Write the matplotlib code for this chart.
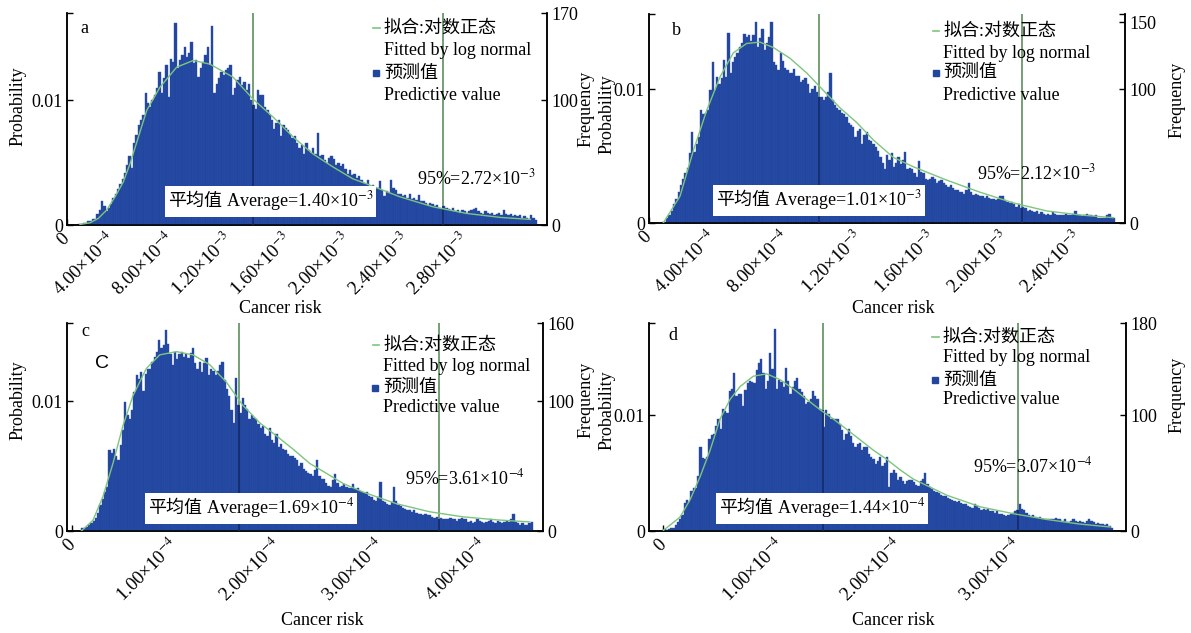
import matplotlib
matplotlib.use("Agg")
import matplotlib.pyplot as plt
from matplotlib.patches import Rectangle
from matplotlib.transforms import Bbox
import numpy as np

plt.rcParams['font.family'] = ['Liberation Serif', 'Noto Sans CJK SC']
plt.rcParams['mathtext.fontset'] = 'stix'

N_TRIALS = 10000

# ---- panel a ----
a_start = 1.646e-4
a_width = 0.1557e-4
a_counts = [
    1, 1, 2, 2, 3, 3, 5, 5, 9, 12,
    19, 15, 11, 14, 17, 22, 25, 29, 33, 37,
    42, 48, 55, 46, 66, 72, 80, 84, 88, 106,
    98, 95, 100, 104, 110, 123, 106, 118, 128, 103,
    133, 131, 162, 126, 132, 136, 143, 135, 138, 147,
    130, 132, 119, 126, 131, 136, 143, 128, 160, 106,
    113, 118, 123, 120, 124, 126, 128, 104, 110, 116,
    119, 112, 115, 108, 113, 100, 96, 93, 108, 104,
    104, 95, 92, 88, 84, 77, 82, 84, 71, 80,
    78, 76, 73, 70, 71, 66, 62, 64, 57, 66,
    60, 58, 62, 57, 74, 55, 56, 52, 50, 54,
    55, 53, 48, 50, 47, 49, 45, 41, 44, 40,
    41, 38, 39, 36, 34, 33, 36, 30, 32, 28,
    30, 35, 28, 23, 27, 26, 36, 30, 28, 25,
    25, 23, 24, 22, 25, 21, 22, 20, 24, 19,
    19, 18, 16, 18, 17, 15, 16, 14, 13, 15,
    14, 13, 12, 14, 11, 12, 10, 12, 11, 10,
    11, 12, 13, 14, 11, 10, 9, 11, 10, 9,
    10, 8, 9, 10, 8, 12, 9, 8, 9, 7,
    8, 7, 8, 6, 7, 6, 5, 8, 6, 4,
]
a_fit_x = [1.78, 2.46, 3.02, 3.59, 4.16, 4.72, 5.17, 6.31, 7.21, 8.34, 9.47, 10.60,
           12.16, 13.52, 14.88, 16.24, 17.59, 18.94, 20.30, 21.23, 23.49, 25.73,
           28.01, 30.30, 32.33]
a_fit_y = [0.5, 1.8, 5.3, 12, 22.6, 34.6, 49, 92, 110.6, 126.6, 132, 129,
           118.6, 101, 86.6, 70.6, 57, 46.6, 37, 33, 22.6, 14.6, 9.3, 6.1, 4.5]
a_mean, a_p95 = 13.50e-4, 26.42e-4
a_xlim = (0.90e-4, 33.46e-4)
a_ytop, a_ylab = 170, 170
a_xticks = [4e-4, 8e-4, 12e-4, 16e-4, 20e-4, 24e-4, 28e-4]
a_xticklabels = ['4.00×10$^{-4}$', '8.00×10$^{-4}$', '1.20×10$^{-3}$', '1.60×10$^{-3}$',
                 '2.00×10$^{-3}$', '2.40×10$^{-3}$', '2.80×10$^{-3}$']
a_mean_text = ' Average=1.40×10$^{-3}$'
a_p95_text = '95%=2.72×10$^{-3}$'

# ---- panel b ----
b_start = 1.134e-4
b_width = 0.1242e-4
b_counts = [
    1, 1, 4, 6, 9, 14, 18, 23, 28, 33,
    37, 41, 52, 68, 53, 59, 64, 84, 81, 82,
    84, 99, 120, 99, 109, 104, 108, 122, 109, 142,
    112, 120, 124, 127, 131, 134, 141, 139, 140, 136,
    140, 150, 131, 138, 145, 129, 134, 139, 150, 120,
    118, 114, 127, 121, 116, 114, 112, 112, 115, 110,
    110, 105, 107, 108, 104, 97, 100, 102, 98, 94,
    94, 92, 94, 98, 112, 92, 88, 86, 84, 82,
    81, 79, 75, 73, 72, 64, 69, 70, 59, 66,
    68, 62, 61, 59, 57, 54, 49, 45, 40, 51,
    47, 52, 42, 45, 49, 44, 47, 53, 40, 41,
    40, 37, 34, 46, 38, 37, 33, 32, 33, 34,
    33, 30, 31, 32, 30, 28, 27, 28, 26, 25,
    25, 23, 23, 22, 25, 30, 23, 21, 22, 21,
    20, 20, 19, 20, 19, 18, 18, 17, 18, 20,
    20, 17, 16, 15, 16, 14, 12, 14, 11, 12,
    11, 9, 10, 9, 8, 9, 7, 8, 7, 6,
    7, 6, 8, 7, 6, 6, 6, 6, 7, 6,
    6, 7, 9, 6, 6, 5, 6, 7, 6, 6,
    5, 6, 4, 4, 4, 4, 6, 7, 4, 4,
]
b_fit_x = [1.22, 2.14, 2.87, 3.60, 4.33, 5.06, 5.79, 6.52, 7.25, 8.16, 9.08, 9.99,
           10.90, 11.82, 12.73, 13.82, 14.92, 16.75, 18.57, 20.40, 22.23, 24.05, 25.88]
b_fit_y = [0, 20, 54, 84, 109, 127, 134, 135, 131, 123, 112, 99,
           86, 75, 62, 49, 42, 32, 23, 15, 9, 6, 4]
b_mean, b_p95 = 9.77e-4, 20.86e-4
b_xlim = (0.439e-4, 26.52e-4)
b_ytop, b_ylab = 156, 150
b_xticks = [4e-4, 8e-4, 12e-4, 16e-4, 20e-4, 24e-4]
b_xticklabels = ['4.00×10$^{-4}$', '8.00×10$^{-4}$', '1.20×10$^{-3}$', '1.60×10$^{-3}$',
                 '2.00×10$^{-3}$', '2.40×10$^{-3}$']
b_mean_text = ' Average=1.01×10$^{-3}$'
b_p95_text = '95%=2.12×10$^{-3}$'

# ---- panel c ----
c_start = 0.0883e-4
c_width = 0.02191e-4
c_counts = [
    2, 2, 3, 5, 6, 8, 10, 14, 20, 25,
    30, 34, 62, 60, 63, 58, 55, 66, 78, 99,
    89, 86, 93, 107, 120, 117, 122, 108, 121, 125,
    125, 130, 134, 138, 147, 141, 143, 155, 144, 136,
    128, 138, 132, 136, 138, 134, 136, 133, 137, 141,
    129, 125, 130, 122, 129, 133, 120, 125, 123, 120,
    123, 128, 130, 116, 109, 104, 93, 83, 118, 97,
    91, 102, 97, 94, 86, 89, 87, 86, 82, 79,
    81, 75, 73, 79, 70, 68, 75, 65, 67, 63,
    62, 59, 58, 58, 56, 55, 50, 52, 48, 46,
    45, 44, 42, 47, 55, 42, 40, 40, 37, 35,
    34, 39, 44, 37, 34, 35, 36, 34, 33, 33,
    36, 32, 33, 31, 30, 29, 30, 27, 26, 24,
    23, 26, 38, 23, 22, 21, 20, 22, 34, 23,
    20, 19, 18, 17, 16, 16, 15, 16, 14, 13,
    13, 12, 13, 12, 12, 11, 10, 11, 9, 10,
    9, 9, 9, 10, 9, 9, 8, 9, 10, 9,
    9, 7, 8, 6, 7, 9, 8, 7, 6, 7,
    8, 9, 7, 6, 8, 7, 6, 7, 8, 7,
    9, 13, 7, 6, 5, 6, 5, 5, 6, 7,
]
c_fit_x = [0.088, 0.201, 0.298, 0.395, 0.492, 0.589, 0.719, 0.849, 1.011, 1.172, 1.334,
           1.496, 1.657, 1.819, 1.982, 2.143, 2.305, 2.467, 2.628, 2.822, 3.147,
           3.470, 3.793, 4.117, 4.441]
c_fit_y = [0, 8.3, 26.5, 52, 81, 104, 125, 135.5, 138, 135.5, 128,
           114.5, 96.6, 83.3, 73.2, 63, 52, 44.4, 36.6, 30, 21,
           14.8, 10.9, 8.6, 7]
c_mean, c_p95 = 1.616e-4, 3.557e-4
c_xlim = (-0.051e-4, 4.570e-4)
c_ytop, c_ylab = 160, 160
c_xticks = [1e-4, 2e-4, 3e-4, 4e-4]
c_xticklabels = ['1.00×10$^{-4}$', '2.00×10$^{-4}$', '3.00×10$^{-4}$', '4.00×10$^{-4}$']
c_mean_text = ' Average=1.69×10$^{-4}$'
c_p95_text = '95%=3.61×10$^{-4}$'

# ---- panel d ----
d_start = 0.0
d_width = 0.019e-4
d_counts = [
    2, 1, 2, 3, 3, 5, 8, 10, 14, 24,
    27, 25, 35, 37, 37, 48, 73, 63, 62, 64,
    80, 83, 84, 91, 97, 88, 106, 104, 102, 121,
    123, 137, 117, 119, 119, 108, 122, 128, 130, 129,
    128, 139, 145, 149, 137, 123, 130, 154, 140, 175,
    123, 131, 129, 125, 141, 130, 119, 125, 130, 132,
    123, 120, 117, 110, 112, 114, 121, 117, 114, 106,
    105, 90, 105, 101, 97, 97, 97, 97, 93, 87,
    79, 84, 88, 82, 76, 73, 75, 76, 70, 73,
    73, 67, 64, 62, 58, 61, 64, 56, 59, 64,
    38, 50, 53, 50, 44, 47, 43, 41, 43, 44,
    44, 42, 40, 39, 43, 45, 50, 41, 38, 36,
    35, 34, 33, 31, 30, 30, 29, 28, 27, 26,
    25, 26, 24, 23, 23, 22, 21, 20, 23, 22,
    20, 18, 19, 18, 19, 17, 17, 16, 17, 15,
    15, 14, 13, 14, 15, 16, 17, 18, 23, 19,
    18, 16, 14, 13, 14, 12, 11, 12, 10, 10,
    10, 10, 10, 10, 11, 10, 10, 9, 10, 8,
    8, 9, 10, 9, 8, 9, 8, 7, 9, 10,
    9, 8, 6, 7, 6, 6, 5, 6, 4, 3,
]
d_fit_x = [0.0, 0.140, 0.225, 0.310, 0.395, 0.479, 0.564, 0.648, 0.760, 0.873, 0.986,
           1.098, 1.211, 1.324, 1.436, 1.549, 1.662, 1.774, 1.888, 2.000, 2.112,
           2.254, 2.395, 2.676, 2.958, 3.240, 3.522, 3.775]
d_fit_y = [0.6, 12, 27, 47, 70, 97, 114, 125, 134, 136, 131,
           123, 114, 105, 97, 88, 79, 70, 62, 53, 45,
           38, 31, 21, 15, 10, 6, 3.5]
d_mean, d_p95 = 1.347e-4, 3.0e-4
d_xlim = (-0.122e-4, 3.910e-4)
d_ytop, d_ylab = 180, 180
d_xticks = [1e-4, 2e-4, 3e-4]
d_xticklabels = ['1.00×10$^{-4}$', '2.00×10$^{-4}$', '3.00×10$^{-4}$']
d_mean_text = ' Average=1.44×10$^{-4}$'
d_p95_text = '95%=3.07×10$^{-4}$'

BAR = '#22469f'
FIT = '#7dc57d'
VLINE = '#5f8f5f'
DARK = '#16296a'
FS = 13

fig = plt.figure(figsize=(11.91, 6.33), dpi=100)
boxes = []


def panel(rect, letter, start, width, counts, fit_x, fit_y, xscale, mean, p95,
          xlim, ytop, ylab_top, xticks, xticklabels, zero_at, mean_text, p95_text, lay):
    ax = fig.add_axes(rect)
    ax2 = ax.twinx()
    counts = np.array(counts, dtype=float)
    edges = start + width * np.arange(len(counts))
    # lines behind bars
    for xv in (mean, p95):
        ax2.axvline(xv, color=VLINE, lw=1.2, zorder=1)
    ax2.bar(edges, counts, width=width, align='edge', color=BAR,
            edgecolor='#2c52aa', linewidth=0.3, zorder=2)
    for xv in (mean, p95):
        k = int((xv - start) / width)
        h = counts[k] if 0 <= k < len(counts) else 0
        ax2.vlines(xv, 0, h, color=DARK, lw=1.2, zorder=3)
    ax2.plot(np.array(fit_x) * xscale, fit_y, color=FIT, lw=1.0, zorder=4)

    ax.set_xlim(*xlim)
    ax2.set_xlim(*xlim)
    ax.set_ylim(0, ytop / N_TRIALS)
    ax2.set_ylim(0, ytop)

    ax.set_yticks([0, 0.01, ytop / N_TRIALS])
    ax.set_yticklabels(['0', '0.01', ''], fontsize=FS)
    rt = [0, 100, ylab_top]
    rl = ['0', '100', str(ylab_top)]
    if ylab_top != ytop:
        rt.append(ytop)
        rl.append('')
    ax2.set_yticks(rt)
    ax2.set_yticklabels(rl, fontsize=FS)
    ax.set_xticks([zero_at] + xticks)
    ax.set_xticklabels(['0'] + xticklabels, fontsize=13.5, rotation=45,
                       ha='right', va='center', rotation_mode='anchor')
    for a in (ax, ax2):
        a.tick_params(direction='in', length=4, width=1, pad=3)
        a.spines['top'].set_visible(False)
        for s in ('left', 'right', 'bottom'):
            a.spines[s].set_linewidth(1.1)
    ax.tick_params(axis='x', pad=8)

    ax.set_ylabel('Probability', fontsize=FS)
    ax.yaxis.set_label_coords(*lay['ylab'])
    ax2.set_ylabel('Frequency', fontsize=FS)
    ax2.yaxis.set_label_coords(*lay['flab'])
    ax.set_xlabel('Cancer risk', fontsize=FS)
    ax.xaxis.set_label_coords(*lay['xlab'])

    t = ax2.transAxes
    ax2.text(lay['letter'][0], lay['letter'][1], letter, transform=t,
             fontsize=FS, va='center', zorder=6)
    lx, ly = lay['leg']
    ax2.plot([lx - 0.022, lx - 0.008], [ly[0], ly[0]], transform=t,
             color=FIT, lw=1.2, zorder=6, clip_on=False)
    ax2.plot([lx - 0.016], [ly[2]], transform=t, marker='s', ms=5,
             color=BAR, zorder=6, clip_on=False)
    for yy, s in zip(ly, ['拟合:对数正态', 'Fitted by log normal', '预测值', 'Predictive value']):
        ax2.text(lx, yy, s, transform=t, fontsize=FS, va='center', zorder=6)
    t1 = ax2.text(lay['mean'][0], lay['mean'][1], '平均值', transform=t,
                  fontsize=FS, va='center', zorder=7)
    t2 = ax2.annotate(mean_text, xy=(1, 0.5), xycoords=t1, fontsize=FS,
                      va='center', ha='left', zorder=7)
    boxes.append((ax2, t1, t2))
    ax2.text(lay['p95'][0], lay['p95'][1], p95_text, transform=t, fontsize=FS,
             va='center', zorder=6)
    return ax, ax2


lay_a = dict(ylab=(-0.085, 0.56), flab=(1.064, 0.55), xlab=(0.444, -0.354),
             letter=(0.027, 0.929), leg=(0.660, [0.929, 0.821, 0.717, 0.613]),
             mean=(0.21, 0.113), p95=(0.729, 0.222))
lay_b = dict(ylab=(-0.071, 0.52), flab=(1.092, 0.59), xlab=(0.513, -0.368),
             letter=(0.048, 0.923), leg=(0.618, [0.919, 0.813, 0.718, 0.612]),
             mean=(0.141, 0.11), p95=(0.689, 0.239))
lay_c = dict(ylab=(-0.086, 0.63), flab=(1.072, 0.63), xlab=(0.536, -0.389),
             letter=(0.031, 0.957), leg=(0.664, [0.894, 0.793, 0.688, 0.596]),
             mean=(0.17, 0.11), p95=(0.71, 0.255))
lay_d = dict(ylab=(-0.071, 0.58), flab=(1.090, 0.654), xlab=(0.512, -0.389),
             letter=(0.04, 0.942), leg=(0.616, [0.933, 0.832, 0.726, 0.63]),
             mean=(0.147, 0.11), p95=(0.679, 0.3125))

panel([0.05626, 0.6445, 0.4030, 0.3349], 'a', a_start, a_width, a_counts, a_fit_x,
      a_fit_y, 1e-4, a_mean, a_p95, a_xlim, a_ytop, a_ylab, a_xticks, a_xticklabels,
      a_xlim[0], a_mean_text, a_p95_text, lay_a)
panel([0.5449, 0.6477, 0.3997, 0.3302], 'b', b_start, b_width, b_counts, b_fit_x,
      b_fit_y, 1e-4, b_mean, b_p95, b_xlim, b_ytop, b_ylab, b_xticks, b_xticklabels,
      b_xlim[0], b_mean_text, b_p95_text, lay_b)
axc, axc2 = panel([0.05626, 0.1611, 0.3997, 0.3286], 'c', c_start, c_width, c_counts,
                  c_fit_x, c_fit_y, 1e-4, c_mean, c_p95, c_xlim, c_ytop, c_ylab,
                  c_xticks, c_xticklabels, 0.0, c_mean_text, c_p95_text, lay_c)
axc2.text(0.059, 0.807, 'C', transform=axc2.transAxes, fontsize=14,
          family='Liberation Sans', va='center', zorder=6)
panel([0.5449, 0.1611, 0.4005, 0.3286], 'd', d_start, d_width, d_counts, d_fit_x,
      d_fit_y, 1e-4, d_mean, d_p95, d_xlim, d_ytop, d_ylab, d_xticks, d_xticklabels,
      0.0, d_mean_text, d_p95_text, lay_d)

# white box behind the two-part average label
fig.canvas.draw()
for ax2, t1, t2 in boxes:
    bb = Bbox.union([t1.get_window_extent(), t2.get_window_extent()])
    inv = ax2.transAxes.inverted()
    (x0, y0), (x1, y1) = inv.transform([[bb.x0 - 3, bb.y0 - 4], [bb.x1 + 3, bb.y1 + 3]])
    ax2.add_patch(Rectangle((x0, y0), x1 - x0, y1 - y0, transform=ax2.transAxes,
                            facecolor='white', edgecolor='none', zorder=5))

fig.savefig('out.png', dpi=100)
